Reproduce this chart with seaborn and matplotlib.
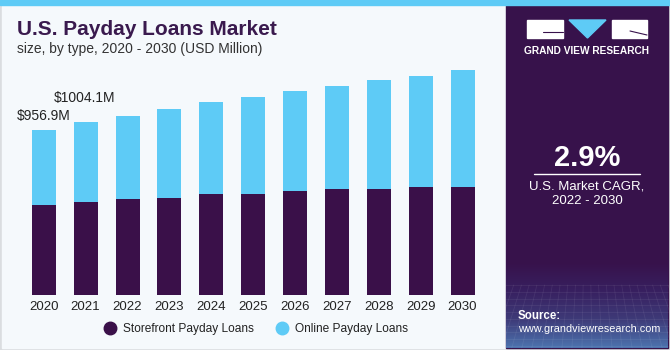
import numpy as np
import pandas as pd
import matplotlib
matplotlib.use("Agg")
import matplotlib.pyplot as plt
from matplotlib.lines import Line2D
from matplotlib.patches import Rectangle, Polygon
from matplotlib.colors import LinearSegmentedColormap
import seaborn as sns

years = ["2020", "2021", "2022", "2023", "2024", "2025", "2026", "2027", "2028", "2029", "2030"]
storefront = [523, 537, 558, 562, 585, 585, 601, 614, 614, 628, 628]
online = [434, 467, 483, 514, 532, 564, 581, 597, 632, 645, 678]
annotations = {"2020": "$956.9M", "2021": "$1004.1M"}
series_names = ["Storefront Payday Loans", "Online Payday Loans"]

C_DARK = "#3A1049"
C_LIGHT = "#5ECBF6"
C_PANEL = "#37124B"
C_BG = "#F5F9FC"

sns.set_theme(style="white")
plt.rcParams["font.family"] = ["Liberation Sans", "DejaVu Sans"]

W, H = 670, 350
fig = plt.figure(figsize=(W / 100, H / 100), dpi=100)
fig.patch.set_facecolor("white")

def fx(px):
    return px / W

def fy(py):
    return 1 - py / H

# backgrounds
bg = fig.add_axes([0, 0, 1, 1], zorder=-10)
bg.set_xlim(0, W); bg.set_ylim(H, 0); bg.axis("off")
bg.add_patch(Rectangle((0, 0), W, H, color="#DADDE0"))
bg.add_patch(Rectangle((2, 5), 503, 343, color=C_BG))
bg.add_patch(Rectangle((506, 5), 162, 343, color=C_PANEL))
# bottom gradient on panel (dark at top, bluish at bottom)
grad = np.linspace(0, 1, 100).reshape(-1, 1)
cmap = LinearSegmentedColormap.from_list("g", [C_PANEL, "#382060", "#3E3A78", "#4C72AE"])
bg.imshow(grad, extent=(506, 668, 348, 262), origin="upper", aspect="auto", cmap=cmap, zorder=1)
# faint grid lines in gradient
for yy in np.linspace(285, 346, 10):
    bg.plot([506, 668], [yy, yy], color="white", alpha=0.07, lw=0.6, zorder=2)
for xx in np.linspace(506, 668, 22):
    bg.plot([xx, xx + (xx - 587) * 0.3], [285, 348], color="white", alpha=0.07, lw=0.6, zorder=2)
bg.add_patch(Rectangle((0, 0), W, 5, color=C_LIGHT, zorder=3))

# chart axes
ax = fig.add_axes([fx(22.8), fy(295), fx(483.5 - 22.8), fy(60) - fy(295)])
ax.patch.set_alpha(0)
df = pd.DataFrame({"year": years, "storefront": storefront, "online": online})
df["total"] = df["storefront"] + df["online"]
sns.barplot(data=df, x="year", y="total", color=C_LIGHT, width=0.573, ax=ax,
            saturation=1, edgecolor="none")
sns.barplot(data=df, x="year", y="storefront", color=C_DARK, width=0.573, ax=ax,
            saturation=1, edgecolor="none")
ax.set_xlim(-0.5, len(years) - 0.5)
ax.set_ylim(0, (295 - 60) * 5.8)
ax.set_xlabel(""); ax.set_ylabel("")
ax.set_yticks([])
for s in ax.spines.values():
    s.set_visible(False)
ax.tick_params(axis="x", length=0, pad=4, labelsize=9.5, labelcolor="#222222")

# annotations
fig.text(fx(17), fy(116), annotations["2020"], fontsize=10, color="#222222", va="center", ha="left")
fig.text(fx(54), fy(98), annotations["2021"], fontsize=10, color="#222222", va="center", ha="left")

# titles
fig.text(fx(17), fy(35), "U.S. Payday Loans Market", fontsize=15, fontweight="bold",
         color="#3A1A4E", va="baseline", ha="left")
fig.text(fx(17), fy(53), "size, by type, 2020 - 2030 (USD Million)", fontsize=10,
         color="#333333", va="baseline", ha="left")

# legend
handles = [Line2D([], [], marker="o", ls="none", markersize=9, color=C_DARK),
           Line2D([], [], marker="o", ls="none", markersize=9, color=C_LIGHT)]
fig.legend(handles, series_names, loc="center", bbox_to_anchor=(fx(253), fy(329)),
           ncol=2, frameon=False, fontsize=8.6, handletextpad=0.15, columnspacing=1.3,
           labelcolor="#222222")

# right panel: logo
lg = bg
lg.add_patch(Rectangle((527, 20), 36, 18, color="white", zorder=4))
lg.add_patch(Polygon([[569, 20], [606, 20], [587.5, 38]], color=C_LIGHT, zorder=4))
lg.add_patch(Rectangle((612, 20), 35, 18, color="white", zorder=4))
lg.plot([543, 563], [32, 32], color=C_PANEL, lw=0.8, zorder=5)
lg.plot([630, 647], [31, 35], color=C_PANEL, lw=0.8, zorder=5)
fig.text(fx(587), fy(51), "GRAND VIEW RESEARCH", fontsize=7.3, fontweight="bold",
         color="white", ha="center", va="center")

fig.text(fx(587), fy(166), "2.9%", fontsize=21, fontweight="bold", color="white",
         ha="center", va="baseline")
bg.plot([534, 640], [173.5, 173.5], color="white", lw=1, zorder=5)
fig.text(fx(587), fy(186), "U.S. Market CAGR,", fontsize=9.5, color="white", ha="center", va="center")
fig.text(fx(587), fy(201), "2022 - 2030", fontsize=9.5, color="white", ha="center", va="center")

fig.text(fx(518), fy(316), "Source:", fontsize=8.3, fontweight="bold", color="white", ha="left", va="center")
fig.text(fx(518), fy(329), "www.grandviewresearch.com", fontsize=7.8, color="white", ha="left", va="center")

fig.savefig("out.png", dpi=100)
